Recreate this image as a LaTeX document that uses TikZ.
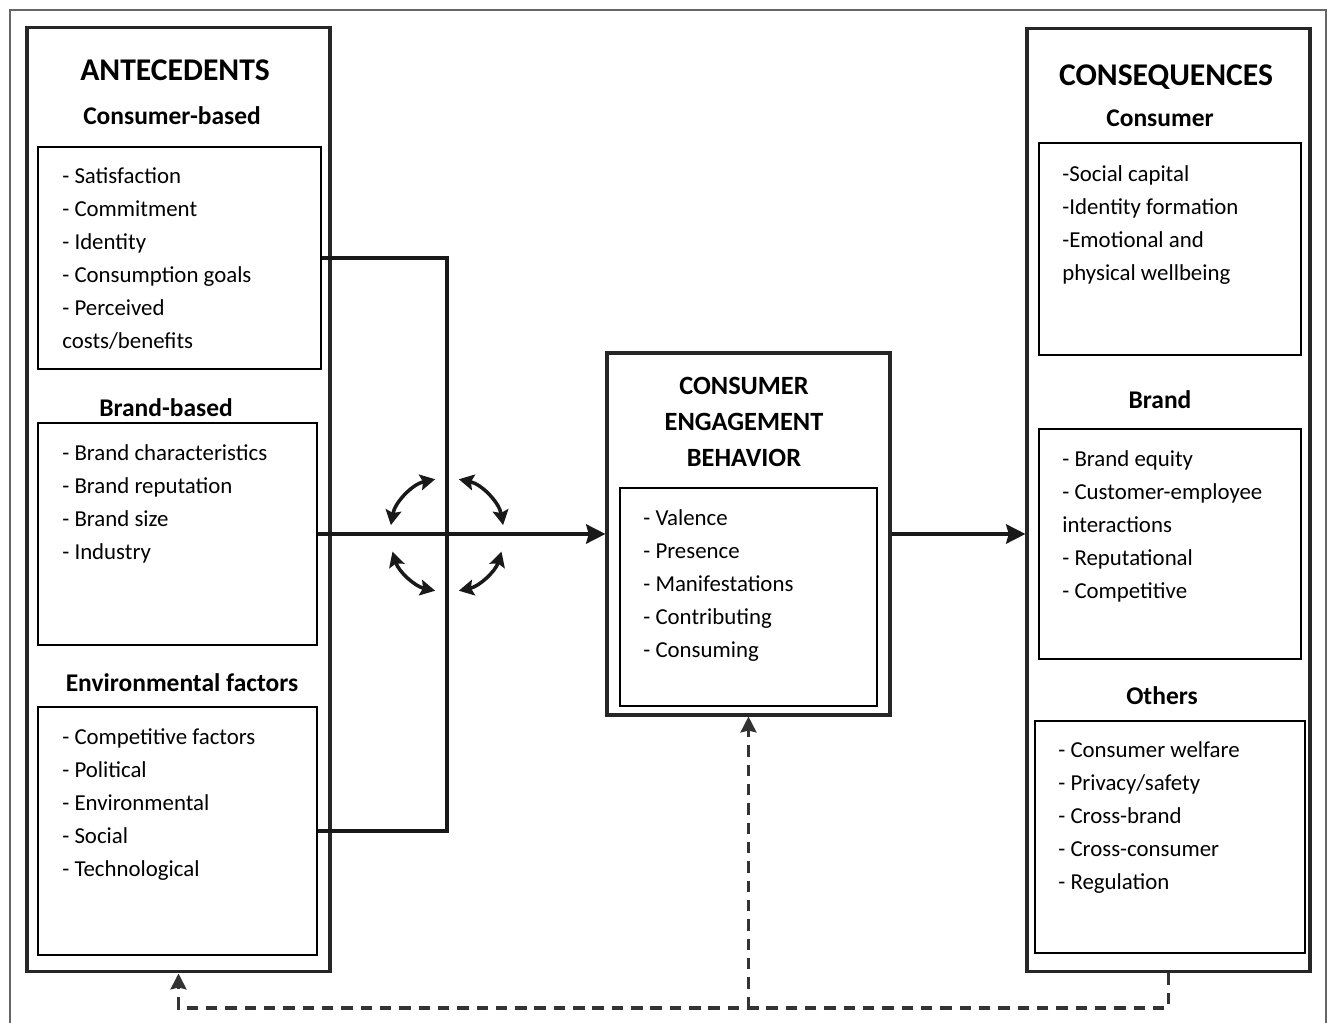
\documentclass[tikz,border=0pt]{standalone}
\usepackage{fontspec}
\setmainfont{Carlito}
\usetikzlibrary{arrows.meta, positioning}
\tikzset{
    outerbox/.style={rectangle, draw=black!85, line width=1.8pt},
    innerbox/.style={rectangle, draw=black, line width=1.3pt},
    title/.style={font=\fontsize{18}{22}\selectfont\bfseries},
    head/.style={font=\fontsize{14.5}{18}\selectfont\bfseries},
    items/.style={anchor=north west, align=left, inner sep=0pt, font=\fontsize{13}{18.8}\selectfont},
    arrow/.style={line width=1.9pt, draw=black!90, -{Stealth[length=11pt, width=11pt, inset=1.5pt]}},
    link/.style={line width=1.9pt, draw=black!90},
    turn/.style={line width=2pt, draw=black!90, {Stealth[length=8.5pt, width=9pt, inset=1.5pt]}-{Stealth[length=8.5pt, width=9pt, inset=1.5pt]}},
    fback/.style={line width=1.8pt, draw=black!80, dash pattern=on 6.5pt off 4.5pt, -{Stealth[length=9pt, width=9pt, inset=1pt]}},
    frame/.style={draw=black!60, line width=0.8pt}
}
\begin{document}
\begin{tikzpicture}[x=0.02cm, y=-0.02cm]
    \useasboundingbox (0,0) rectangle (1330,1023);
    \draw [frame] (10,1023) |- (1326,10) -- (1326,1023);

    % antecedents
    \node (ante) [outerbox, minimum width=6.06cm, minimum height=18.9cm] at (178.5,499.5) {};
    \node (antehead) [title] at (175,70) {ANTECEDENTS};
    \node (cbhead) [head] at (172,116) {Consumer-based};
    \node (cb) [innerbox, minimum width=5.66cm, minimum height=4.44cm] at (179.5,258) {};
    \node (cbtxt) [items] at (62,160) {\strut- Satisfaction\\- Commitment\\- Identity\\- Consumption goals\\- Perceived\\costs/benefits};
    \node (bbhead) [head] at (166,408) {Brand-based};
    \node (bb) [innerbox, minimum width=5.58cm, minimum height=4.44cm] at (177.5,534) {};
    \node (bbtxt) [items] at (62,437) {\strut- Brand characteristics\\- Brand reputation\\- Brand size\\- Industry};
    \node (efhead) [head] at (182,683) {Environmental factors};
    \node (ef) [innerbox, minimum width=5.58cm, minimum height=4.96cm] at (177.5,831) {};
    \node (eftxt) [items] at (62,721) {\strut- Competitive factors\\- Political\\- Environmental\\- Social\\- Technological};

    % engagement behavior
    \node (ceb) [outerbox, minimum width=5.66cm, minimum height=7.24cm] at (748.5,534) {};
    \node (cebhead) [head, align=center, font=\fontsize{15}{20.5}\selectfont\bfseries] at (744,422) {CONSUMER\\ENGAGEMENT\\BEHAVIOR};
    \node (cebin) [innerbox, minimum width=5.14cm, minimum height=4.36cm] at (748.5,597) {};
    \node (cebtxt) [items] at (643,502) {\strut- Valence\\- Presence\\- Manifestations\\- Contributing\\- Consuming};

    % consequences
    \node (cons) [outerbox, minimum width=5.66cm, minimum height=18.88cm] at (1168.5,500) {};
    \node (conshead) [title] at (1166,77) {CONSEQUENCES};
    \node (cuhead) [head] at (1160,118) {Consumer};
    \node (cu) [innerbox, minimum width=5.24cm, minimum height=4.24cm] at (1170,249) {};
    \node (cutxt) [items] at (1062,158) {\strut-Social capital\\-Identity formation\\-Emotional and\\physical wellbeing};
    \node (brhead) [head] at (1160,400) {Brand};
    \node (br) [innerbox, minimum width=5.24cm, minimum height=4.6cm] at (1170,544) {};
    \node (brtxt) [items] at (1062,443) {\strut- Brand equity\\- Customer-employee\\interactions\\- Reputational\\- Competitive};
    \node (othead) [head] at (1162,696) {Others};
    \node (ot) [innerbox, minimum width=5.4cm, minimum height=4.64cm] at (1170,837) {};
    \node (ottxt) [items] at (1058,734) {\strut- Consumer welfare\\- Privacy/safety\\- Cross-brand\\- Cross-consumer\\- Regulation};

    % connectors
    \coordinate (hub) at (447,535);
    \coordinate (fb) at (748.5,1008);
    \draw [link] (cb.east) -| (hub) |- (ef.east);
    \draw [arrow] (bb.east) -- (ceb.west);
    \draw [arrow] (ceb.east) -- (ceb.east -| cons.west);
    \draw [turn] ([shift={(170:1.14cm)}]hub) arc[start angle=170, end angle=102, radius=1.14cm];
    \draw [turn] ([shift={(78:1.14cm)}]hub) arc[start angle=78, end angle=10, radius=1.14cm];
    \draw [turn] ([shift={(197:1.14cm)}]hub) arc[start angle=197, end angle=258, radius=1.14cm];
    \draw [turn] ([shift={(282:1.14cm)}]hub) arc[start angle=282, end angle=343, radius=1.14cm];
    \draw [fback] (cons.south) |- (fb) -| (ante.south);
    \draw [fback] (fb) -- (ceb.south);

\end{tikzpicture}
\end{document}
